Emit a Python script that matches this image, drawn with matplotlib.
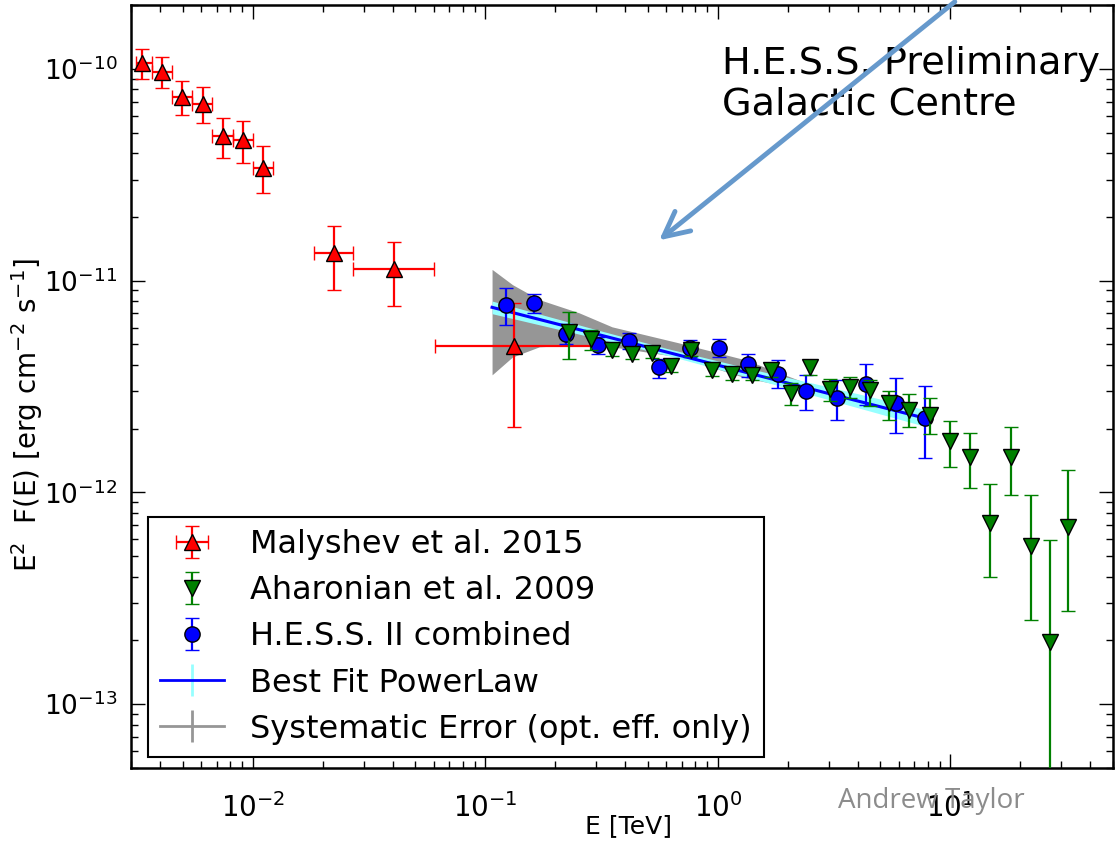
import matplotlib
matplotlib.use("Agg")
import matplotlib.pyplot as plt
import numpy as np
from matplotlib.patches import FancyArrowPatch

# Malyshev et al. 2015 (Fermi-LAT)
mal_e = [3.35e-3, 4.08e-3, 4.99e-3, 6.12e-3, 7.46e-3, 9.09e-3, 1.107e-2, 2.23e-2, 4.07e-2, 0.133]
mal_e_lo = [3.15e-3, 3.71e-3, 4.52e-3, 5.51e-3, 6.72e-3, 8.23e-3, 1.0e-2, 1.83e-2, 2.71e-2, 6.1e-2]
mal_e_hi = [3.71e-3, 4.52e-3, 5.51e-3, 6.72e-3, 8.23e-3, 1.0e-2, 1.22e-2, 2.71e-2, 6.04e-2, 0.303]
mal_f = [1.07e-10, 9.7e-11, 7.35e-11, 6.83e-11, 4.8e-11, 4.61e-11, 3.42e-11, 1.35e-11, 1.13e-11, 4.92e-12]
mal_f_lo = [8.97e-11, 8.1e-11, 6.05e-11, 5.55e-11, 3.8e-11, 3.59e-11, 2.58e-11, 9.06e-12, 7.55e-12, 2.04e-12]
mal_f_hi = [1.245e-10, 1.135e-10, 8.75e-11, 8.2e-11, 5.88e-11, 5.67e-11, 4.3e-11, 1.81e-11, 1.52e-11, 7.87e-12]

# Aharonian et al. 2009
aha_e = [0.2296, 0.285, 0.35, 0.426, 0.519, 0.632, 0.77, 0.94, 1.146, 1.40, 1.70, 2.07, 2.48,
         3.03, 3.69, 4.49, 5.47, 6.65, 8.13, 9.91, 12.08, 14.8, 18.2, 22.1, 26.8, 32.1]
aha_f = [5.75e-12, 5.3e-12, 4.71e-12, 4.5e-12, 4.54e-12, 3.95e-12, 4.71e-12, 3.78e-12, 3.61e-12,
         3.6e-12, 3.78e-12, 2.94e-12, 3.92e-12, 3.07e-12, 3.13e-12, 3.04e-12, 2.63e-12, 2.46e-12,
         2.32e-12, 1.75e-12, 1.47e-12, 7.16e-13, 1.47e-12, 5.61e-13, 1.97e-13, 6.86e-13]
aha_f_lo = [4.26e-12, 4.71e-12, 4.43e-12, 4.25e-12, 4.3e-12, 3.72e-12, 4.4e-12, 3.55e-12, 3.4e-12,
            3.38e-12, 3.5e-12, 2.58e-12, 3.6e-12, 2.7e-12, 2.78e-12, 2.56e-12, 2.19e-12, 2.03e-12,
            1.88e-12, 1.32e-12, 1.05e-12, 3.97e-13, 9.75e-13, 2.5e-13, 1e-14, 2.74e-13]
aha_f_hi = [7.11e-12, 5.82e-12, 5.0e-12, 4.78e-12, 4.8e-12, 4.2e-12, 5.0e-12, 4.0e-12, 3.85e-12,
            3.85e-12, 4.05e-12, 3.3e-12, 4.23e-12, 3.42e-12, 3.52e-12, 3.4e-12, 3.01e-12, 2.9e-12,
            2.78e-12, 2.18e-12, 1.91e-12, 1.09e-12, 2.03e-12, 9.75e-13, 5.98e-13, 1.27e-12]

# H.E.S.S. II combined
hess_e = [0.1227, 0.162, 0.222, 0.305, 0.416, 0.56, 0.757, 1.01, 1.35, 1.81, 2.40, 3.25, 4.35, 5.85, 7.78]
hess_f = [7.69e-12, 7.84e-12, 5.61e-12, 4.98e-12, 5.2e-12, 3.9e-12, 4.83e-12, 4.83e-12, 4.02e-12,
          3.62e-12, 3.01e-12, 2.78e-12, 3.25e-12, 2.65e-12, 2.25e-12]
hess_f_lo = [6.14e-12, 7.03e-12, 5.02e-12, 4.49e-12, 4.74e-12, 3.48e-12, 4.38e-12, 4.35e-12, 3.52e-12,
             3.1e-12, 2.45e-12, 2.19e-12, 2.58e-12, 1.9e-12, 1.46e-12]
hess_f_hi = [9.2e-12, 8.6e-12, 6.25e-12, 5.4e-12, 5.65e-12, 4.27e-12, 5.25e-12, 5.3e-12, 4.5e-12,
             4.2e-12, 3.59e-12, 3.4e-12, 4.03e-12, 3.48e-12, 3.18e-12]

# best fit power law and its statistical band
fit_e = [0.107, 7.78]
fit_f = [7.48e-12, 2.24e-12]
band_e = [0.107, 0.3, 0.6, 1.5, 3.0, 7.78]
band_lo = [6.98e-12, 5.35e-12, 4.45e-12, 3.39e-12, 2.74e-12, 2.05e-12]
band_hi = [8.01e-12, 5.87e-12, 4.79e-12, 3.75e-12, 3.15e-12, 2.46e-12]

# systematic error band (optical efficiency only)
sys_e = [0.107, 0.131, 0.171, 0.253, 0.351, 0.681, 1.32, 2.39]
sys_lo = [3.59e-12, 4.36e-12, 4.87e-12, 4.97e-12, 4.87e-12, 4.36e-12, 3.47e-12, 3.04e-12]
sys_hi = [1.13e-11, 9.57e-12, 8.13e-12, 7.05e-12, 6.05e-12, 5.08e-12, 4.22e-12, 3.29e-12]


def asym(v, lo, hi):
    v, lo, hi = np.asarray(v), np.asarray(lo), np.asarray(hi)
    return [v - lo, hi - v]


fig = plt.figure(figsize=(11.15, 8.43), dpi=100)
ax = fig.add_axes([0.1175, 0.089, 0.8807, 0.905])
ax.set_xscale("log")
ax.set_yscale("log")

ax.fill_between(sys_e, sys_lo, sys_hi, color="#969696", lw=0, zorder=1)
ax.fill_between(band_e, band_lo, band_hi, color="#96ffff", lw=0, zorder=2)
ax.plot(fit_e, fit_f, color="blue", lw=2.2, zorder=3)

eb = dict(capsize=5, elinewidth=1.6, capthick=1.6, mec="black", mew=1)
h_mal = ax.errorbar(mal_e, mal_f, xerr=asym(mal_e, mal_e_lo, mal_e_hi),
                    yerr=asym(mal_f, mal_f_lo, mal_f_hi), fmt="^", color="red",
                    ms=12, zorder=5, **eb)
h_hess = ax.errorbar(hess_e, hess_f, yerr=asym(hess_f, hess_f_lo, hess_f_hi), fmt="o",
                     color="blue", ms=11, zorder=6, **eb)
h_aha = ax.errorbar(aha_e, aha_f, yerr=asym(aha_f, aha_f_lo, aha_f_hi), fmt="v",
                    color="green", ms=12, zorder=7, **eb)
# legend proxies for the line + bands
h_fit = ax.errorbar([np.nan], [np.nan], yerr=[np.nan], color="blue", ecolor="#96ffff",
                    lw=2, elinewidth=2, capsize=0)
h_sys = ax.errorbar([np.nan], [np.nan], yerr=[np.nan], color="#969696", ecolor="#969696",
                    lw=2, elinewidth=2, capsize=0)

ax.set_xlim(3e-3, 50)
ax.set_ylim(5e-14, 2e-10)
ax.tick_params(which="both", direction="in", top=True, right=True)
ax.tick_params(which="major", length=10, width=1)
ax.tick_params(which="minor", length=5, width=1)
ax.tick_params(axis="x", labelsize=20, pad=18)
ax.tick_params(axis="y", labelsize=19, pad=10)
for s in ax.spines.values():
    s.set_linewidth(1.8)

ax.set_xlabel("E [TeV]", fontsize=18)
ax.xaxis.set_label_coords(0.507, -0.061)
ax.set_ylabel(r"E$^2$  F(E) [erg cm$^{-2}$ s$^{-1}$]", fontsize=20)
ax.yaxis.set_label_coords(-0.088, 0.463)

leg = ax.legend([h_mal, h_aha, h_hess, h_fit, h_sys],
                ["Malyshev et al. 2015", "Aharonian et al. 2009", "H.E.S.S. II combined",
                 "Best Fit PowerLaw", "Systematic Error (opt. eff. only)"],
                loc="lower left", bbox_to_anchor=(0.017, 0.014), borderaxespad=0,
                fontsize=23, numpoints=1, fancybox=False, framealpha=1,
                edgecolor="black", handlelength=2.0, labelspacing=0.47)
leg.get_frame().set_linewidth(1.5)

fig.text(722 / 1115, 1 - 46 / 843, "H.E.S.S. Preliminary\nGalactic Centre",
         fontsize=27.5, ha="left", va="top", linespacing=1.15, zorder=3)
fig.text(838 / 1115, 1 - 801 / 843, "Andrew Taylor", fontsize=20, color="#8c8c8c",
         family=["Open Sans", "DejaVu Sans"], ha="left", va="center", zorder=3)

arrow = FancyArrowPatch((957 / 1115, 1.0), (657 / 1115, 1 - 242 / 843),
                        transform=fig.transFigure, arrowstyle="->,head_length=0.9,head_width=0.45",
                        mutation_scale=20, lw=3.5, color="#6699cc", zorder=4)
fig.add_artist(arrow)

fig.savefig("out.png", dpi=100)
